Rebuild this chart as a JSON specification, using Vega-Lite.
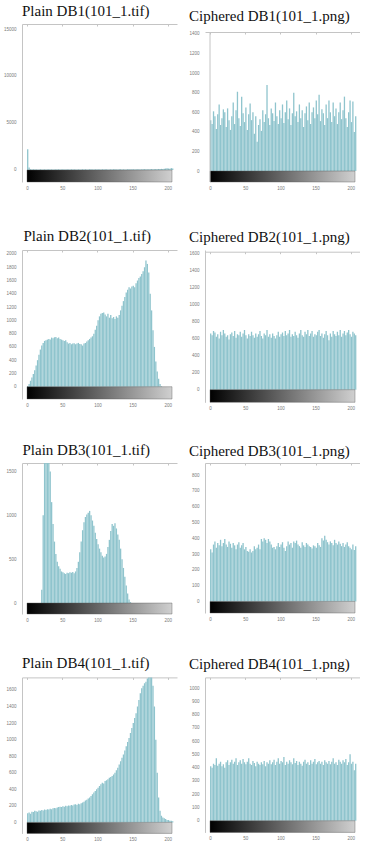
{
"$schema": "https://vega.github.io/schema/vega-lite/v6.json",
"background": "white",
"padding": {"left": 2, "top": 3, "right": 0, "bottom": 0},
"config": {
 "view": {"stroke": null},
 "title": {"font": "Liberation Serif", "fontSize": 15, "fontWeight": "normal", "color": "#111111", "anchor": "start", "frame": "group", "baseline": "alphabetic"},
 "axis": {"grid": false, "title": null, "labelFont": "Liberation Sans", "labelFontSize": 4.5, "labelColor": "#7a7a7a", "domainColor": "#c4c4c4", "tickColor": "#c4c4c4", "labelFlush": false, "labelOverlap": false, "tickSize": 0},
 "axisLeft": {"domain": true, "ticks": false, "tickSize": 0, "labelPadding": 6, "minExtent": 20, "maxExtent": 20},
 "axisBottom": {"domain": false, "ticks": false, "tickSize": 0, "labelPadding": 3.5},
 "axisTop": {"domain": true, "labels": false, "ticks": true, "tickSize": -2},
 "bar": {"color": "#8fc4cd", "size": 1.3},
 "rule": {"color": "#c4c4c4", "strokeWidth": 1},
 "rect": {"fill": {"gradient": "linear", "x1": 0, "y1": 0, "x2": 1, "y2": 0, "stops": [{"offset": 0, "color": "#000000"}, {"offset": 1, "color": "#d0d0d0"}]}, "stroke": "#555555", "strokeWidth": 0.4}
},
"datasets": {
 "p1": [{"x":1,"y":2200},{"x":3,"y":260},{"x":5,"y":90},{"x":7,"y":60},{"x":9,"y":80},{"x":11,"y":50},{"x":13,"y":70},{"x":15,"y":40},{"x":17,"y":60},{"x":19,"y":80},{"x":21,"y":50},{"x":23,"y":60},{"x":25,"y":70},{"x":27,"y":50},{"x":29,"y":60},{"x":31,"y":80},{"x":33,"y":50},{"x":35,"y":70},{"x":37,"y":60},{"x":39,"y":50},{"x":41,"y":70},{"x":43,"y":60},{"x":45,"y":80},{"x":47,"y":50},{"x":49,"y":60},{"x":51,"y":70},{"x":53,"y":50},{"x":55,"y":60},{"x":57,"y":80},{"x":59,"y":60},{"x":61,"y":50},{"x":63,"y":70},{"x":65,"y":60},{"x":67,"y":80},{"x":69,"y":50},{"x":71,"y":60},{"x":73,"y":70},{"x":75,"y":60},{"x":77,"y":50},{"x":79,"y":80},{"x":81,"y":60},{"x":83,"y":70},{"x":85,"y":50},{"x":87,"y":60},{"x":89,"y":80},{"x":91,"y":70},{"x":93,"y":60},{"x":95,"y":50},{"x":97,"y":70},{"x":99,"y":60},{"x":101,"y":80},{"x":103,"y":60},{"x":105,"y":50},{"x":107,"y":70},{"x":109,"y":60},{"x":111,"y":80},{"x":113,"y":70},{"x":115,"y":60},{"x":117,"y":50},{"x":119,"y":70},{"x":121,"y":60},{"x":123,"y":80},{"x":125,"y":70},{"x":127,"y":60},{"x":129,"y":50},{"x":131,"y":70},{"x":133,"y":80},{"x":135,"y":60},{"x":137,"y":70},{"x":139,"y":50},{"x":141,"y":60},{"x":143,"y":80},{"x":145,"y":70},{"x":147,"y":60},{"x":149,"y":90},{"x":151,"y":70},{"x":153,"y":60},{"x":155,"y":80},{"x":157,"y":70},{"x":159,"y":90},{"x":161,"y":60},{"x":163,"y":80},{"x":165,"y":70},{"x":167,"y":90},{"x":169,"y":80},{"x":171,"y":70},{"x":173,"y":90},{"x":175,"y":80},{"x":177,"y":100},{"x":179,"y":90},{"x":181,"y":80},{"x":183,"y":100},{"x":185,"y":90},{"x":187,"y":110},{"x":189,"y":100},{"x":191,"y":120},{"x":193,"y":110},{"x":195,"y":120},{"x":197,"y":150},{"x":199,"y":180},{"x":201,"y":160},{"x":203,"y":140},{"x":205,"y":200},{"x":207,"y":150}],
 "c1": [{"x":1,"y":520},{"x":3,"y":480},{"x":5,"y":610},{"x":7,"y":560},{"x":9,"y":430},{"x":11,"y":580},{"x":13,"y":680},{"x":15,"y":470},{"x":17,"y":540},{"x":19,"y":630},{"x":21,"y":600},{"x":23,"y":450},{"x":25,"y":640},{"x":27,"y":520},{"x":29,"y":420},{"x":31,"y":560},{"x":33,"y":700},{"x":35,"y":480},{"x":37,"y":620},{"x":39,"y":810},{"x":41,"y":540},{"x":43,"y":460},{"x":45,"y":760},{"x":47,"y":590},{"x":49,"y":500},{"x":51,"y":650},{"x":53,"y":420},{"x":55,"y":580},{"x":57,"y":690},{"x":59,"y":520},{"x":61,"y":600},{"x":63,"y":380},{"x":65,"y":560},{"x":67,"y":300},{"x":69,"y":470},{"x":71,"y":530},{"x":73,"y":410},{"x":75,"y":620},{"x":77,"y":500},{"x":79,"y":580},{"x":81,"y":880},{"x":83,"y":540},{"x":85,"y":470},{"x":87,"y":640},{"x":89,"y":590},{"x":91,"y":510},{"x":93,"y":700},{"x":95,"y":560},{"x":97,"y":480},{"x":99,"y":620},{"x":101,"y":540},{"x":103,"y":680},{"x":105,"y":490},{"x":107,"y":600},{"x":109,"y":720},{"x":111,"y":530},{"x":113,"y":640},{"x":115,"y":470},{"x":117,"y":590},{"x":119,"y":800},{"x":121,"y":560},{"x":123,"y":610},{"x":125,"y":500},{"x":127,"y":680},{"x":129,"y":540},{"x":131,"y":620},{"x":133,"y":450},{"x":135,"y":590},{"x":137,"y":660},{"x":139,"y":520},{"x":141,"y":700},{"x":143,"y":480},{"x":145,"y":600},{"x":147,"y":650},{"x":149,"y":540},{"x":151,"y":720},{"x":153,"y":580},{"x":155,"y":780},{"x":157,"y":510},{"x":159,"y":630},{"x":161,"y":590},{"x":163,"y":470},{"x":165,"y":680},{"x":167,"y":540},{"x":169,"y":720},{"x":171,"y":600},{"x":173,"y":500},{"x":175,"y":700},{"x":177,"y":560},{"x":179,"y":640},{"x":181,"y":480},{"x":183,"y":600},{"x":185,"y":700},{"x":187,"y":530},{"x":189,"y":620},{"x":191,"y":760},{"x":193,"y":540},{"x":195,"y":450},{"x":197,"y":600},{"x":199,"y":720},{"x":201,"y":500},{"x":203,"y":710},{"x":205,"y":400},{"x":207,"y":560}],
 "p2": [{"x":1,"y":10},{"x":3,"y":40},{"x":5,"y":90},{"x":7,"y":140},{"x":9,"y":190},{"x":11,"y":250},{"x":13,"y":320},{"x":15,"y":400},{"x":17,"y":480},{"x":19,"y":560},{"x":21,"y":620},{"x":23,"y":660},{"x":25,"y":690},{"x":27,"y":700},{"x":29,"y":710},{"x":31,"y":720},{"x":33,"y":710},{"x":35,"y":740},{"x":37,"y":730},{"x":39,"y":745},{"x":41,"y":750},{"x":43,"y":730},{"x":45,"y":740},{"x":47,"y":720},{"x":49,"y":710},{"x":51,"y":700},{"x":53,"y":690},{"x":55,"y":700},{"x":57,"y":670},{"x":59,"y":650},{"x":61,"y":660},{"x":63,"y":640},{"x":65,"y":650},{"x":67,"y":655},{"x":69,"y":640},{"x":71,"y":650},{"x":73,"y":660},{"x":75,"y":645},{"x":77,"y":640},{"x":79,"y":620},{"x":81,"y":650},{"x":83,"y":660},{"x":85,"y":680},{"x":87,"y":700},{"x":89,"y":720},{"x":91,"y":740},{"x":93,"y":760},{"x":95,"y":800},{"x":97,"y":860},{"x":99,"y":920},{"x":101,"y":1000},{"x":103,"y":1060},{"x":105,"y":1100},{"x":107,"y":1110},{"x":109,"y":1120},{"x":111,"y":1090},{"x":113,"y":1060},{"x":115,"y":1100},{"x":117,"y":1040},{"x":119,"y":1080},{"x":121,"y":1030},{"x":123,"y":1050},{"x":125,"y":1020},{"x":127,"y":1060},{"x":129,"y":1040},{"x":131,"y":1080},{"x":133,"y":1150},{"x":135,"y":1220},{"x":137,"y":1290},{"x":139,"y":1350},{"x":141,"y":1420},{"x":143,"y":1460},{"x":145,"y":1500},{"x":147,"y":1480},{"x":149,"y":1510},{"x":151,"y":1520},{"x":153,"y":1500},{"x":155,"y":1560},{"x":157,"y":1600},{"x":159,"y":1640},{"x":161,"y":1660},{"x":163,"y":1700},{"x":165,"y":1740},{"x":167,"y":1800},{"x":169,"y":1900},{"x":171,"y":1850},{"x":173,"y":1720},{"x":175,"y":1400},{"x":177,"y":1150},{"x":179,"y":850},{"x":181,"y":600},{"x":183,"y":380},{"x":185,"y":230},{"x":187,"y":120},{"x":189,"y":40},{"x":191,"y":10}],
 "c2": [{"x":1,"y":660},{"x":3,"y":640},{"x":5,"y":690},{"x":7,"y":670},{"x":9,"y":620},{"x":11,"y":650},{"x":13,"y":600},{"x":15,"y":680},{"x":17,"y":640},{"x":19,"y":700},{"x":21,"y":660},{"x":23,"y":620},{"x":25,"y":640},{"x":27,"y":590},{"x":29,"y":650},{"x":31,"y":670},{"x":33,"y":630},{"x":35,"y":690},{"x":37,"y":610},{"x":39,"y":650},{"x":41,"y":640},{"x":43,"y":680},{"x":45,"y":620},{"x":47,"y":660},{"x":49,"y":700},{"x":51,"y":640},{"x":53,"y":600},{"x":55,"y":650},{"x":57,"y":630},{"x":59,"y":680},{"x":61,"y":640},{"x":63,"y":610},{"x":65,"y":660},{"x":67,"y":620},{"x":69,"y":650},{"x":71,"y":690},{"x":73,"y":630},{"x":75,"y":600},{"x":77,"y":660},{"x":79,"y":640},{"x":81,"y":700},{"x":83,"y":620},{"x":85,"y":650},{"x":87,"y":610},{"x":89,"y":660},{"x":91,"y":630},{"x":93,"y":600},{"x":95,"y":640},{"x":97,"y":680},{"x":99,"y":620},{"x":101,"y":650},{"x":103,"y":670},{"x":105,"y":630},{"x":107,"y":690},{"x":109,"y":640},{"x":111,"y":660},{"x":113,"y":700},{"x":115,"y":620},{"x":117,"y":650},{"x":119,"y":630},{"x":121,"y":680},{"x":123,"y":640},{"x":125,"y":610},{"x":127,"y":660},{"x":129,"y":700},{"x":131,"y":640},{"x":133,"y":620},{"x":135,"y":680},{"x":137,"y":650},{"x":139,"y":700},{"x":141,"y":630},{"x":143,"y":660},{"x":145,"y":690},{"x":147,"y":620},{"x":149,"y":650},{"x":151,"y":640},{"x":153,"y":680},{"x":155,"y":700},{"x":157,"y":630},{"x":159,"y":660},{"x":161,"y":610},{"x":163,"y":650},{"x":165,"y":690},{"x":167,"y":640},{"x":169,"y":580},{"x":171,"y":660},{"x":173,"y":620},{"x":175,"y":690},{"x":177,"y":650},{"x":179,"y":630},{"x":181,"y":680},{"x":183,"y":640},{"x":185,"y":700},{"x":187,"y":620},{"x":189,"y":660},{"x":191,"y":690},{"x":193,"y":640},{"x":195,"y":670},{"x":197,"y":700},{"x":199,"y":650},{"x":201,"y":620},{"x":203,"y":680},{"x":205,"y":660},{"x":207,"y":640}],
 "p3": [{"x":21,"y":150},{"x":23,"y":1000},{"x":25,"y":2400},{"x":27,"y":3000},{"x":29,"y":2600},{"x":31,"y":1900},{"x":33,"y":1500},{"x":35,"y":1150},{"x":37,"y":900},{"x":39,"y":700},{"x":41,"y":560},{"x":43,"y":470},{"x":45,"y":420},{"x":47,"y":390},{"x":49,"y":360},{"x":51,"y":350},{"x":53,"y":340},{"x":55,"y":330},{"x":57,"y":345},{"x":59,"y":340},{"x":61,"y":350},{"x":63,"y":345},{"x":65,"y":355},{"x":67,"y":340},{"x":69,"y":360},{"x":71,"y":400},{"x":73,"y":470},{"x":75,"y":580},{"x":77,"y":700},{"x":79,"y":830},{"x":81,"y":920},{"x":83,"y":980},{"x":85,"y":1010},{"x":87,"y":1030},{"x":89,"y":1050},{"x":91,"y":1000},{"x":93,"y":940},{"x":95,"y":880},{"x":97,"y":800},{"x":99,"y":730},{"x":101,"y":670},{"x":103,"y":620},{"x":105,"y":580},{"x":107,"y":540},{"x":109,"y":520},{"x":111,"y":530},{"x":113,"y":560},{"x":115,"y":640},{"x":117,"y":720},{"x":119,"y":820},{"x":121,"y":900},{"x":123,"y":880},{"x":125,"y":910},{"x":127,"y":850},{"x":129,"y":780},{"x":131,"y":720},{"x":133,"y":620},{"x":135,"y":500},{"x":137,"y":400},{"x":139,"y":300},{"x":141,"y":200},{"x":143,"y":110},{"x":145,"y":40},{"x":147,"y":10}],
 "c3": [{"x":1,"y":330},{"x":3,"y":310},{"x":5,"y":360},{"x":7,"y":380},{"x":9,"y":340},{"x":11,"y":370},{"x":13,"y":355},{"x":15,"y":390},{"x":17,"y":350},{"x":19,"y":370},{"x":21,"y":395},{"x":23,"y":360},{"x":25,"y":345},{"x":27,"y":380},{"x":29,"y":365},{"x":31,"y":340},{"x":33,"y":370},{"x":35,"y":355},{"x":37,"y":330},{"x":39,"y":360},{"x":41,"y":375},{"x":43,"y":340},{"x":45,"y":355},{"x":47,"y":370},{"x":49,"y":330},{"x":51,"y":345},{"x":53,"y":320},{"x":55,"y":315},{"x":57,"y":330},{"x":59,"y":310},{"x":61,"y":320},{"x":63,"y":350},{"x":65,"y":330},{"x":67,"y":340},{"x":69,"y":360},{"x":71,"y":330},{"x":73,"y":395},{"x":75,"y":380},{"x":77,"y":400},{"x":79,"y":390},{"x":81,"y":370},{"x":83,"y":395},{"x":85,"y":380},{"x":87,"y":360},{"x":89,"y":340},{"x":91,"y":345},{"x":93,"y":330},{"x":95,"y":350},{"x":97,"y":370},{"x":99,"y":345},{"x":101,"y":360},{"x":103,"y":375},{"x":105,"y":340},{"x":107,"y":320},{"x":109,"y":350},{"x":111,"y":380},{"x":113,"y":360},{"x":115,"y":370},{"x":117,"y":340},{"x":119,"y":380},{"x":121,"y":370},{"x":123,"y":385},{"x":125,"y":360},{"x":127,"y":350},{"x":129,"y":340},{"x":131,"y":375},{"x":133,"y":355},{"x":135,"y":345},{"x":137,"y":370},{"x":139,"y":360},{"x":141,"y":350},{"x":143,"y":345},{"x":145,"y":335},{"x":147,"y":355},{"x":149,"y":350},{"x":151,"y":340},{"x":153,"y":370},{"x":155,"y":355},{"x":157,"y":345},{"x":159,"y":400},{"x":161,"y":385},{"x":163,"y":415},{"x":165,"y":390},{"x":167,"y":375},{"x":169,"y":360},{"x":171,"y":380},{"x":173,"y":370},{"x":175,"y":355},{"x":177,"y":390},{"x":179,"y":370},{"x":181,"y":360},{"x":183,"y":380},{"x":185,"y":365},{"x":187,"y":350},{"x":189,"y":370},{"x":191,"y":345},{"x":193,"y":360},{"x":195,"y":375},{"x":197,"y":350},{"x":199,"y":340},{"x":201,"y":330},{"x":203,"y":360},{"x":205,"y":325},{"x":207,"y":350}],
 "p4": [{"x":1,"y":110},{"x":3,"y":120},{"x":5,"y":105},{"x":7,"y":130},{"x":9,"y":125},{"x":11,"y":140},{"x":13,"y":135},{"x":15,"y":130},{"x":17,"y":145},{"x":19,"y":140},{"x":21,"y":150},{"x":23,"y":145},{"x":25,"y":155},{"x":27,"y":150},{"x":29,"y":160},{"x":31,"y":155},{"x":33,"y":165},{"x":35,"y":160},{"x":37,"y":170},{"x":39,"y":175},{"x":41,"y":170},{"x":43,"y":180},{"x":45,"y":185},{"x":47,"y":190},{"x":49,"y":185},{"x":51,"y":195},{"x":53,"y":190},{"x":55,"y":200},{"x":57,"y":195},{"x":59,"y":205},{"x":61,"y":200},{"x":63,"y":210},{"x":65,"y":205},{"x":67,"y":215},{"x":69,"y":220},{"x":71,"y":210},{"x":73,"y":225},{"x":75,"y":220},{"x":77,"y":230},{"x":79,"y":240},{"x":81,"y":250},{"x":83,"y":265},{"x":85,"y":275},{"x":87,"y":290},{"x":89,"y":300},{"x":91,"y":320},{"x":93,"y":340},{"x":95,"y":360},{"x":97,"y":380},{"x":99,"y":400},{"x":101,"y":420},{"x":103,"y":440},{"x":105,"y":460},{"x":107,"y":480},{"x":109,"y":470},{"x":111,"y":500},{"x":113,"y":510},{"x":115,"y":520},{"x":117,"y":540},{"x":119,"y":550},{"x":121,"y":560},{"x":123,"y":580},{"x":125,"y":600},{"x":127,"y":630},{"x":129,"y":660},{"x":131,"y":700},{"x":133,"y":740},{"x":135,"y":780},{"x":137,"y":820},{"x":139,"y":870},{"x":141,"y":920},{"x":143,"y":970},{"x":145,"y":1020},{"x":147,"y":1080},{"x":149,"y":1140},{"x":151,"y":1200},{"x":153,"y":1260},{"x":155,"y":1320},{"x":157,"y":1400},{"x":159,"y":1480},{"x":161,"y":1560},{"x":163,"y":1620},{"x":165,"y":1650},{"x":167,"y":1680},{"x":169,"y":1700},{"x":171,"y":1740},{"x":173,"y":1800},{"x":175,"y":1850},{"x":177,"y":1780},{"x":179,"y":1650},{"x":181,"y":1400},{"x":183,"y":1000},{"x":185,"y":600},{"x":187,"y":300},{"x":189,"y":140},{"x":191,"y":80},{"x":193,"y":60},{"x":195,"y":50},{"x":197,"y":40},{"x":199,"y":30},{"x":201,"y":30},{"x":203,"y":20},{"x":205,"y":20},{"x":207,"y":15}],
 "c4": [{"x":1,"y":410},{"x":3,"y":400},{"x":5,"y":430},{"x":7,"y":420},{"x":9,"y":470},{"x":11,"y":415},{"x":13,"y":430},{"x":15,"y":445},{"x":17,"y":410},{"x":19,"y":425},{"x":21,"y":400},{"x":23,"y":440},{"x":25,"y":455},{"x":27,"y":420},{"x":29,"y":440},{"x":31,"y":460},{"x":33,"y":430},{"x":35,"y":445},{"x":37,"y":470},{"x":39,"y":420},{"x":41,"y":440},{"x":43,"y":455},{"x":45,"y":430},{"x":47,"y":465},{"x":49,"y":440},{"x":51,"y":425},{"x":53,"y":445},{"x":55,"y":470},{"x":57,"y":430},{"x":59,"y":420},{"x":61,"y":450},{"x":63,"y":435},{"x":65,"y":410},{"x":67,"y":445},{"x":69,"y":430},{"x":71,"y":420},{"x":73,"y":440},{"x":75,"y":425},{"x":77,"y":450},{"x":79,"y":410},{"x":81,"y":440},{"x":83,"y":430},{"x":85,"y":455},{"x":87,"y":425},{"x":89,"y":440},{"x":91,"y":460},{"x":93,"y":420},{"x":95,"y":445},{"x":97,"y":470},{"x":99,"y":430},{"x":101,"y":450},{"x":103,"y":440},{"x":105,"y":480},{"x":107,"y":420},{"x":109,"y":445},{"x":111,"y":430},{"x":113,"y":455},{"x":115,"y":440},{"x":117,"y":425},{"x":119,"y":470},{"x":121,"y":435},{"x":123,"y":450},{"x":125,"y":420},{"x":127,"y":445},{"x":129,"y":430},{"x":131,"y":415},{"x":133,"y":445},{"x":135,"y":460},{"x":137,"y":430},{"x":139,"y":440},{"x":141,"y":420},{"x":143,"y":455},{"x":145,"y":430},{"x":147,"y":445},{"x":149,"y":465},{"x":151,"y":425},{"x":153,"y":440},{"x":155,"y":450},{"x":157,"y":430},{"x":159,"y":445},{"x":161,"y":420},{"x":163,"y":455},{"x":165,"y":440},{"x":167,"y":430},{"x":169,"y":450},{"x":171,"y":425},{"x":173,"y":445},{"x":175,"y":470},{"x":177,"y":430},{"x":179,"y":440},{"x":181,"y":420},{"x":183,"y":460},{"x":185,"y":445},{"x":187,"y":430},{"x":189,"y":455},{"x":191,"y":440},{"x":193,"y":465},{"x":195,"y":420},{"x":197,"y":440},{"x":199,"y":500},{"x":201,"y":430},{"x":203,"y":445},{"x":205,"y":380},{"x":207,"y":430}]
},
"spacing": 38,
"vconcat": [
 {"hconcat": [
  {"title": {"text": "Plain DB1(101_1.tif)", "offset": 5}, "width": 155, "height": 158, "resolve": {"axis": {"x": "independent"}}, "layer": [
   {"data": {"name": "p1"}, "mark": {"type": "bar", "clip": true}, "encoding": {"x": {"field": "x", "type": "quantitative", "scale": {"domain": [0, 206], "nice": false, "zero": false}, "axis": {"values": [0, 50, 100, 150, 200]}}, "y": {"field": "y", "type": "quantitative", "scale": {"domain": [-1277, 15532], "nice": false, "zero": false}, "axis": {"values": [0, 5000, 10000, 15000], "format": "d", "tickCount": 30}}}},
   {"data": {"values": [{}]}, "mark": "rect", "encoding": {"x": {"datum": 0, "type": "quantitative", "axis": {"orient": "top", "values": [0, 50, 100, 150, 200]}}, "x2": {"datum": 206}, "y": {"datum": -1277, "type": "quantitative"}, "y2": {"datum": 0}}}
  ]},
  {"title": {"text": "Ciphered DB1(101_1.png)", "offset": 0, "dx": -16}, "width": 155, "height": 158, "resolve": {"axis": {"x": "independent"}}, "layer": [
   {"data": {"name": "c1"}, "mark": {"type": "bar", "clip": true}, "encoding": {"x": {"field": "x", "type": "quantitative", "scale": {"domain": [0, 206], "nice": false, "zero": false}, "axis": {"values": [0, 50, 100, 150, 200]}}, "y": {"field": "y", "type": "quantitative", "scale": {"domain": [-112, 1502], "nice": false, "zero": false}, "axis": {"values": [0, 200, 400, 600, 800, 1000, 1200, 1400], "format": "d", "tickCount": 30, "domain": false}}}},
   {"data": {"values": [{}]}, "mark": "rect", "encoding": {"x": {"datum": 0, "type": "quantitative", "axis": {"orient": "top", "offset": -8, "values": [0, 50, 100, 150, 200]}}, "x2": {"datum": 206}, "y": {"datum": -112, "type": "quantitative"}, "y2": {"datum": 0}}},
   {"data": {"values": [{}]}, "mark": "rule", "encoding": {"x": {"datum": 0, "type": "quantitative", "axis": null}, "y": {"datum": -112, "type": "quantitative"}, "y2": {"datum": 1420}}}
  ]}
 ], "spacing": 8},
 {"spacing": 31, "vconcat": [
  {"hconcat": [
   {"title": {"text": "Plain DB2(101_1.tif)", "offset": 6, "dx": 1.5}, "width": 155, "height": 149, "resolve": {"axis": {"x": "independent"}}, "layer": [
    {"data": {"name": "p2"}, "mark": {"type": "bar", "clip": true}, "encoding": {"x": {"field": "x", "type": "quantitative", "scale": {"domain": [0, 206], "nice": false, "zero": false}, "axis": {"values": [0, 50, 100, 150, 200]}}, "y": {"field": "y", "type": "quantitative", "scale": {"domain": [-185, 2060], "nice": false, "zero": false}, "axis": {"values": [0, 200, 400, 600, 800, 1000, 1200, 1400, 1600, 1800, 2000], "format": "d", "tickCount": 30}}}},
    {"data": {"values": [{}]}, "mark": "rect", "encoding": {"x": {"datum": 0, "type": "quantitative", "axis": {"orient": "top", "values": [0, 50, 100, 150, 200]}}, "x2": {"datum": 206}, "y": {"datum": -185, "type": "quantitative"}, "y2": {"datum": 0}}}
   ]},
   {"title": {"text": "Ciphered DB2(101_1.png)", "offset": 5.3, "dx": -16}, "width": 155, "height": 152.3, "resolve": {"axis": {"x": "independent"}}, "layer": [
    {"data": {"name": "c2"}, "mark": {"type": "bar", "clip": true}, "encoding": {"x": {"field": "x", "type": "quantitative", "scale": {"domain": [0, 206], "nice": false, "zero": false}, "axis": {"values": [0, 50, 100, 150, 200]}}, "y": {"field": "y", "type": "quantitative", "scale": {"domain": [-148, 1639], "nice": false, "zero": false}, "axis": {"values": [0, 200, 400, 600, 800, 1000, 1200, 1400, 1600], "format": "d", "tickCount": 30}}}},
    {"data": {"values": [{}]}, "mark": "rect", "encoding": {"x": {"datum": 0, "type": "quantitative", "axis": {"orient": "top", "offset": -1.7, "values": [0, 50, 100, 150, 200]}}, "x2": {"datum": 206}, "y": {"datum": -148, "type": "quantitative"}, "y2": {"datum": 0}}}
   ]}
  ], "spacing": 8},
  {"spacing": 33.4, "vconcat": [
   {"hconcat": [
    {"title": {"text": "Plain DB3(101_1.tif)", "offset": 5, "dx": 0.5}, "width": 155, "height": 151, "resolve": {"axis": {"x": "independent"}}, "layer": [
     {"data": {"name": "p3"}, "mark": {"type": "bar", "clip": true}, "encoding": {"x": {"field": "x", "type": "quantitative", "scale": {"domain": [0, 206], "nice": false, "zero": false}, "axis": {"values": [0, 50, 100, 150, 200]}}, "y": {"field": "y", "type": "quantitative", "scale": {"domain": [-125, 1596], "nice": false, "zero": false}, "axis": {"values": [0, 500, 1000, 1500], "format": "d", "tickCount": 30}}}},
     {"data": {"values": [{}]}, "mark": "rect", "encoding": {"x": {"datum": 0, "type": "quantitative", "axis": {"orient": "top", "values": [0, 50, 100, 150, 200]}}, "x2": {"datum": 206}, "y": {"datum": -125, "type": "quantitative"}, "y2": {"datum": 0}}}
    ]},
    {"title": {"text": "Ciphered DB3(101_1.png)", "offset": 4, "dx": -16}, "width": 155, "height": 150, "resolve": {"axis": {"x": "independent"}}, "layer": [
     {"data": {"name": "c3"}, "mark": {"type": "bar", "clip": true}, "encoding": {"x": {"field": "x", "type": "quantitative", "scale": {"domain": [0, 206], "nice": false, "zero": false}, "axis": {"values": [0, 50, 100, 150, 200]}}, "y": {"field": "y", "type": "quantitative", "scale": {"domain": [-73, 876], "nice": false, "zero": false}, "axis": {"values": [0, 100, 200, 300, 400, 500, 600, 700, 800], "format": "d", "tickCount": 30}}}},
     {"data": {"values": [{}]}, "mark": "rect", "encoding": {"x": {"datum": 0, "type": "quantitative", "axis": {"orient": "top", "values": [0, 50, 100, 150, 200]}}, "x2": {"datum": 206}, "y": {"datum": -73, "type": "quantitative"}, "y2": {"datum": 0}}}
    ]}
   ], "spacing": 8},
   {"hconcat": [
    {"title": {"text": "Plain DB4(101_1.tif)", "offset": 6}, "width": 155, "height": 156, "resolve": {"axis": {"x": "independent"}}, "layer": [
     {"data": {"name": "p4"}, "mark": {"type": "bar", "clip": true}, "encoding": {"x": {"field": "x", "type": "quantitative", "scale": {"domain": [0, 206], "nice": false, "zero": false}, "axis": {"values": [0, 50, 100, 150, 200]}}, "y": {"field": "y", "type": "quantitative", "scale": {"domain": [-133, 1752], "nice": false, "zero": false}, "axis": {"values": [0, 200, 400, 600, 800, 1000, 1200, 1400, 1600], "format": "d", "tickCount": 30}}}},
     {"data": {"values": [{}]}, "mark": "rect", "encoding": {"x": {"datum": 0, "type": "quantitative", "axis": {"orient": "top", "values": [0, 50, 100, 150, 200]}}, "x2": {"datum": 206}, "y": {"datum": -133, "type": "quantitative"}, "y2": {"datum": 0}}}
    ]},
    {"title": {"text": "Ciphered DB4(101_1.png)", "offset": 5, "dx": -16}, "width": 155, "height": 155, "resolve": {"axis": {"x": "independent"}}, "layer": [
     {"data": {"name": "c4"}, "mark": {"type": "bar", "clip": true}, "encoding": {"x": {"field": "x", "type": "quantitative", "scale": {"domain": [0, 206], "nice": false, "zero": false}, "axis": {"values": [0, 50, 100, 150, 200]}}, "y": {"field": "y", "type": "quantitative", "scale": {"domain": [-88, 1080], "nice": false, "zero": false}, "axis": {"values": [0, 100, 200, 300, 400, 500, 600, 700, 800, 900, 1000], "format": "d", "tickCount": 30}}}},
     {"data": {"values": [{}]}, "mark": "rect", "encoding": {"x": {"datum": 0, "type": "quantitative", "axis": {"orient": "top", "values": [0, 50, 100, 150, 200]}}, "x2": {"datum": 206}, "y": {"datum": -88, "type": "quantitative"}, "y2": {"datum": 0}}}
    ]}
   ], "spacing": 8}
  ]}
 ]}
]
}
